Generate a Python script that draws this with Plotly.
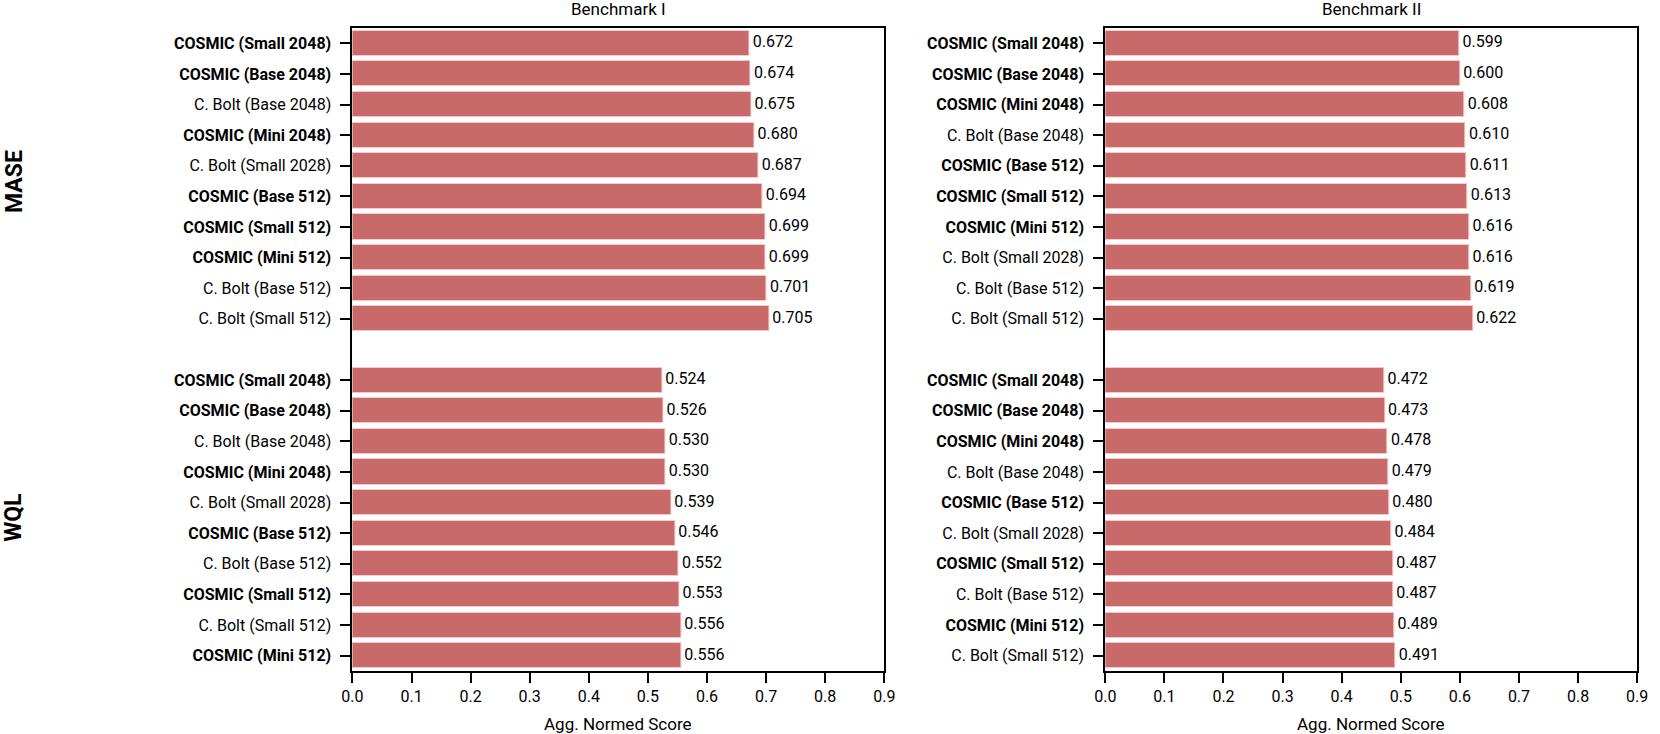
import plotly.graph_objects as go

# ---------------- data ----------------
b1_mase_labels = ["COSMIC (Small 2048)", "COSMIC (Base 2048)", "C. Bolt (Base 2048)", "COSMIC (Mini 2048)",
                  "C. Bolt (Small 2028)", "COSMIC (Base 512)", "COSMIC (Small 512)", "COSMIC (Mini 512)",
                  "C. Bolt (Base 512)", "C. Bolt (Small 512)"]
b1_mase_values = [0.672, 0.674, 0.675, 0.680, 0.687, 0.694, 0.699, 0.699, 0.701, 0.705]

b1_wql_labels = ["COSMIC (Small 2048)", "COSMIC (Base 2048)", "C. Bolt (Base 2048)", "COSMIC (Mini 2048)",
                 "C. Bolt (Small 2028)", "COSMIC (Base 512)", "C. Bolt (Base 512)", "COSMIC (Small 512)",
                 "C. Bolt (Small 512)", "COSMIC (Mini 512)"]
b1_wql_values = [0.524, 0.526, 0.530, 0.530, 0.539, 0.546, 0.552, 0.553, 0.556, 0.556]

b2_mase_labels = ["COSMIC (Small 2048)", "COSMIC (Base 2048)", "COSMIC (Mini 2048)", "C. Bolt (Base 2048)",
                  "COSMIC (Base 512)", "COSMIC (Small 512)", "COSMIC (Mini 512)", "C. Bolt (Small 2028)",
                  "C. Bolt (Base 512)", "C. Bolt (Small 512)"]
b2_mase_values = [0.599, 0.600, 0.608, 0.610, 0.611, 0.613, 0.616, 0.616, 0.619, 0.622]

b2_wql_labels = ["COSMIC (Small 2048)", "COSMIC (Base 2048)", "COSMIC (Mini 2048)", "C. Bolt (Base 2048)",
                 "COSMIC (Base 512)", "C. Bolt (Small 2028)", "COSMIC (Small 512)", "C. Bolt (Base 512)",
                 "COSMIC (Mini 512)", "C. Bolt (Small 512)"]
b2_wql_values = [0.472, 0.473, 0.478, 0.479, 0.480, 0.484, 0.487, 0.487, 0.489, 0.491]

benchmarks = ["Benchmark I", "Benchmark II"]
metrics = ["MASE", "WQL"]
x_ticks = [0.0, 0.1, 0.2, 0.3, 0.4, 0.5, 0.6, 0.7, 0.8, 0.9]
x_title = "Agg. Normed Score"

# ---------------- styling ----------------
W, H = 1660, 734
FONT = "Roboto"
BAR = "#c8696a"
EDGE = "#f2caca"

def px_x(p):
    return p / W

def px_y(p):
    return 1 - p / H

col_domains = [[px_x(346), px_x(885)], [px_x(1109), px_x(1648)]]
y_domain = [px_y(671), px_y(28)]

fig = go.Figure()

columns = [
    (b1_mase_labels, b1_mase_values, b1_wql_labels, b1_wql_values),
    (b2_mase_labels, b2_mase_values, b2_wql_labels, b2_wql_values),
]

def fmt_label(s):
    return "<b>" + s + "</b>" if s.startswith("COSMIC") else s

for ci, (ml, mv, wl, wv) in enumerate(columns):
    xa = "x" if ci == 0 else "x2"
    ya = "y" if ci == 0 else "y2"
    ypos = list(range(len(mv))) + [len(mv) + 1 + i for i in range(len(wv))]
    vals = mv + wv
    labels = ml + wl
    fig.add_trace(go.Bar(
        x=vals, y=ypos, orientation="h", width=0.82,
        marker=dict(color=BAR, line=dict(color=EDGE, width=1)),
        xaxis=xa, yaxis=ya, showlegend=False, hoverinfo="x+y",
    ))
    fig.add_trace(go.Scatter(
        x=vals, y=ypos, mode="text", text=["\u2009" + f"{v:.3f}" for v in vals],
        textposition="middle right", textfont=dict(family=FONT, size=16, color="black"),
        xaxis=xa, yaxis=ya, showlegend=False, hoverinfo="skip", cliponaxis=False,
    ))
    axis_common = dict(showline=True, linecolor="black", linewidth=2, mirror=True,
                       showgrid=False, zeroline=False, ticks="outside", ticklen=10,
                       tickwidth=2, tickcolor="black",
                       tickfont=dict(family=FONT, size=16, color="black"))
    fig.layout["xaxis" + ("" if ci == 0 else "2")] = dict(
        domain=col_domains[ci], range=[0, 0.9], tickvals=x_ticks,
        ticktext=[f"{t:.1f}" for t in x_ticks], anchor=ya, **axis_common)
    fig.layout["yaxis" + ("" if ci == 0 else "2")] = dict(
        domain=y_domain, range=[20.5, -0.5], tickvals=ypos,
        ticktext=[fmt_label(s) for s in labels], anchor=xa, ticklabelstandoff=6,
        **axis_common)
    xmid = (col_domains[ci][0] + col_domains[ci][1]) / 2
    fig.add_annotation(text=benchmarks[ci], x=xmid, y=px_y(9), xref="paper", yref="paper",
                       showarrow=False, xanchor="center", yanchor="middle",
                       font=dict(family=FONT, size=17, color="black"))
    fig.add_annotation(text=x_title, x=xmid, y=px_y(724), xref="paper", yref="paper",
                       showarrow=False, xanchor="center", yanchor="middle",
                       font=dict(family=FONT, size=17, color="black"))

# row labels
for mi, m in enumerate(metrics):
    center_px = 28 + (671 - 28) * ((mi * 11 + 4.5 + 0.5) / 21.0)
    fig.add_annotation(text="<b>" + m + "</b>", x=px_x(3), y=px_y(center_px),
                       xref="paper", yref="paper", showarrow=False, textangle=-90,
                       xanchor="center", yanchor="middle",
                       font=dict(family=FONT, size=23, color="black"))

fig.update_layout(width=W, height=H, margin=dict(l=0, r=0, t=0, b=0),
                  plot_bgcolor="white", paper_bgcolor="white",
                  font=dict(family=FONT, size=16, color="black"), bargap=0)

fig.write_html("out.html", config={"displayModeBar": False},
               post_script="document.body.style.margin='0';")
